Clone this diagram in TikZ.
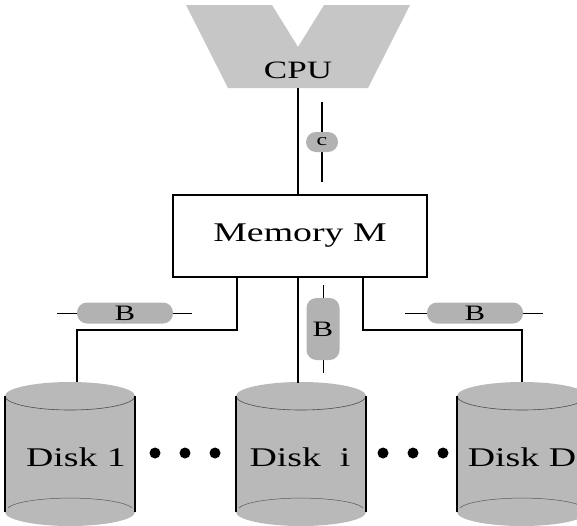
\documentclass[tikz,border=0pt]{standalone}
\usepackage{fontspec}
\setmainfont[FakeStretch=1.4]{Liberation Serif}

\tikzset{
  membox/.style={draw, line width=1.2pt, fill=white, minimum width=254, minimum height=82, inner sep=0pt, font=\fontsize{27}{27}\selectfont},
  bus/.style={rectangle, rounded corners=10pt, fill=gray!60, inner sep=0pt, font=\fontsize{22}{22}\selectfont},
  disklabel/.style={inner sep=0pt, font=\fontsize{27}{27}\selectfont},
  % pics do not take the picture's y flip: y goes up in here
  drum/.pic={
    \fill[gray!55] (-65,0) arc[start angle=180, end angle=0, x radius=65, y radius=14] -- (65,-116) arc[start angle=0, end angle=-180, x radius=65, y radius=14] -- cycle;
    \draw[gray!60!black, line width=0.6pt] (-65,0) arc[start angle=180, end angle=360, x radius=65, y radius=14];
    \draw[gray!70!black, line width=0.5pt] (-62,-112) arc[start angle=170, end angle=10, x radius=63, y radius=12];
    \draw[line width=1.2pt] (-65,0) -- (-65,-116) (65,0) -- (65,-116);
  }
}

\begin{document}
\begin{tikzpicture}[x=1pt,y=1pt,yscale=-1,xscale=1]
\useasboundingbox (0,0) rectangle (577,525);

% CPU
\fill[gray!45] (186,5) -- (272,5) -- (298,47) -- (324,5) -- (410,5) -- (368,88) -- (228,88) -- cycle;
\node[font=\fontsize{25}{25}\selectfont] (cpu) at (298,70) {CPU};
\coordinate (cpub) at (298,88);

% memory
\node[membox] (mem) at (300,236) {Memory M};
\draw[line width=1.2pt] (cpub) -- (cpub |- mem.north);

% bus c
\draw[line width=1.2pt] (322,102) -- (322,182);
\node[bus, minimum width=32, minimum height=20, font=\fontsize{17}{17}\selectfont] (busc) at (322,142) {c};

% disks
\pic at (70,396) {drum};
\pic at (301,396) {drum};
\pic at (522,396) {drum};
\node[disklabel] (disk1) at (76,457) {Disk 1};
\node[disklabel] (diski) at (300,457) {Disk\ \ i};
\node[disklabel] (diskD) at (522,457) {Disk D};
\coordinate (d1) at (77,382);
\coordinate (di) at (298,383);
\coordinate (dD) at (522,382);

\foreach \x in {155,185,215,383,413,443}
  \fill (\x,453) circle[radius=5.5];

% disk links
\coordinate (m1) at (237,277);
\coordinate (m2) at (298,277);
\coordinate (m3) at (363,277);
\draw[line width=1.2pt] (m1) -- ++(0,53) -| (d1);
\draw[line width=1.2pt] (m2) -- (di);
\draw[line width=1.2pt] (m3) -- ++(0,53) -| (dD);

% B buses
\draw[line width=1pt] (57,313) -- (192,313);
\node[bus, minimum width=96, minimum height=21] (bl) at (125,313) {B};
\draw[line width=1pt] (323,285) -- (323,373);
\node[bus, minimum width=33, minimum height=62] (bm) at (323,329) {B};
\draw[line width=1pt] (405,313) -- (543,313);
\node[bus, minimum width=96, minimum height=21] (br) at (475,313) {B};

\end{tikzpicture}
\end{document}
